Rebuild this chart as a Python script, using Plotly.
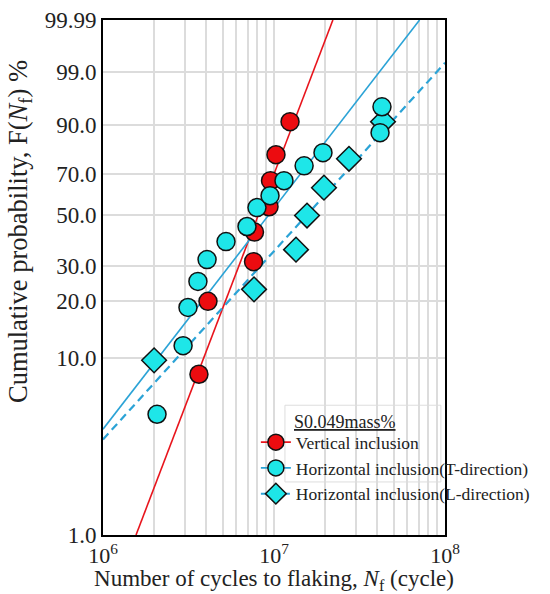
import numpy as np
import plotly.graph_objects as go

# ---- data (N in cycles, F in %) ----
red_N = [3.64e6, 4.11e6, 7.59e6, 7.69e6, 9.35e6, 9.54e6, 1.027e7, 1.241e7]
red_F = [8.1, 19.9, 31.3, 42.6, 54.0, 66.6, 78.7, 90.9]

T_N = [2.07e6, 2.94e6, 3.14e6, 3.59e6, 4.06e6, 5.24e6, 6.95e6, 7.95e6,
       9.48e6, 1.144e7, 1.50e7, 1.934e7, 4.17e7, 4.28e7]
T_F = [4.85, 11.6, 18.5, 25.1, 32.0, 38.7, 45.0, 53.6,
       59.3, 66.6, 73.7, 79.6, 87.4, 94.6]

L_N = [1.99e6, 7.64e6, 1.345e7, 1.56e7, 1.96e7, 2.745e7, 4.34e7]
L_F = [9.66, 22.9, 35.6, 49.9, 63.2, 76.9, 90.9]

# fitted Weibull lines (end points)
red_fit_N = [1.56e6, 2.21e7]
red_fit_F = [1.0, 99.99]
T_fit_N = [1.0e6, 7.1e7]
T_fit_F = [4.0, 99.99]
L_fit_N = [1.0e6, 1.0e8]
L_fit_F = [3.5, 99.46]

y_ticks = [1.0, 10.0, 20.0, 30.0, 50.0, 70.0, 90.0, 99.0, 99.99]
y_labels = ["1.0", "10.0", "20.0", "30.0", "50.0", "70.0", "90.0", "99.0", "99.99"]
x_decades = [1e6, 1e7, 1e8]
x_labels = ["10<sup>6</sup>", "10<sup>7</sup>", "10<sup>8</sup>"]

legend_names = ["Vertical inclusion",
                "Horizontal inclusion(T-direction)",
                "Horizontal inclusion(L-direction)"]


def weib(F):
    """Weibull probability scale: ln(-ln(1-F))."""
    return np.log(-np.log(1.0 - np.asarray(F, dtype=float) / 100.0))


FONT = "Liberation Serif, Times New Roman, serif"
RED = "#ec0c10"
RED_LINE = "#e8141c"
CYAN = "#1ee6e8"
BLUE_LINE = "#2ba3d6"
EDGE = "#111111"
TXT = "#222222"

# grid positions on the log axis: 1..9 x each decade
x_grid = [m * d for d in x_decades[:-1] for m in range(1, 10)] + [x_decades[-1]]
x_grid_text = [x_labels[x_decades.index(v)] if v in x_decades else "" for v in x_grid]

fig = go.Figure()

# fitted lines
fig.add_trace(go.Scatter(x=red_fit_N, y=weib(red_fit_F), mode="lines",
                         line=dict(color=RED_LINE, width=1.6), showlegend=False))
fig.add_trace(go.Scatter(x=T_fit_N, y=weib(T_fit_F), mode="lines",
                         line=dict(color=BLUE_LINE, width=1.6), showlegend=False))
fig.add_trace(go.Scatter(x=L_fit_N, y=weib(L_fit_F), mode="lines",
                         line=dict(color=BLUE_LINE, width=2.2, dash="8px,5px"),
                         showlegend=False))

# data markers
fig.add_trace(go.Scatter(x=red_N, y=weib(red_F), mode="markers",
                         marker=dict(symbol="circle", size=18, color=RED,
                                     line=dict(color=EDGE, width=1.5)),
                         showlegend=False))
fig.add_trace(go.Scatter(x=L_N, y=weib(L_F), mode="markers",
                         marker=dict(symbol="diamond", size=19, color=CYAN,
                                     line=dict(color=EDGE, width=1.5)),
                         showlegend=False))
fig.add_trace(go.Scatter(x=T_N, y=weib(T_F), mode="markers",
                         marker=dict(symbol="circle", size=18, color=CYAN,
                                     line=dict(color=EDGE, width=1.5)),
                         showlegend=False))

# legend entries (line + marker symbols)
fig.add_trace(go.Scatter(x=[None], y=[None], mode="lines+markers", name=legend_names[0],
                         line=dict(color=RED_LINE, width=1.6),
                         marker=dict(symbol="circle", size=17, color=RED,
                                     line=dict(color=EDGE, width=1.5))))
fig.add_trace(go.Scatter(x=[None], y=[None], mode="lines+markers", name=legend_names[1],
                         line=dict(color=BLUE_LINE, width=1.6),
                         marker=dict(symbol="circle", size=17, color=CYAN,
                                     line=dict(color=EDGE, width=1.5))))
fig.add_trace(go.Scatter(x=[None], y=[None], mode="lines+markers", name=legend_names[2],
                         line=dict(color=BLUE_LINE, width=2, dash="5px,3px"),
                         marker=dict(symbol="diamond", size=17, color=CYAN,
                                     line=dict(color=EDGE, width=1.5))))

fig.update_layout(
    width=550, height=594,
    margin=dict(l=103, r=105, t=20, b=59, autoexpand=False),
    paper_bgcolor="white", plot_bgcolor="white",
    font=dict(family=FONT, color=TXT),
    showlegend=True,
    legend=dict(x=0.447, y=0.215, xanchor="left", yanchor="top",
                bgcolor="rgba(0,0,0,0)", borderwidth=0,
                font=dict(family=FONT, size=17.5, color=TXT),
                itemwidth=30, tracegroupgap=0),
    xaxis=dict(type="log", range=[6, 8], automargin=False,
               tickvals=x_grid, ticktext=x_grid_text, ticks="",
               tickfont=dict(family=FONT, size=22, color=TXT),
               showgrid=True, gridcolor="#dcdcdc", gridwidth=1.5,
               showline=True, linecolor="black", linewidth=2, mirror=True,
               zeroline=False,
               title=dict(text="Number of cycles to flaking, <i>N</i><sub>f</sub> (cycle)",
                          font=dict(family=FONT, size=23, color=TXT),
                          standoff=0)),
    yaxis=dict(range=[float(weib(1.0)), float(weib(99.99))], automargin=False,
               tickvals=list(weib(y_ticks)), ticktext=y_labels, ticks="",
               tickfont=dict(family=FONT, size=23, color=TXT),
               showgrid=True, gridcolor="#dcdcdc", gridwidth=1.5,
               showline=True, linecolor="black", linewidth=2, mirror=True,
               zeroline=False),
    shapes=[dict(type="rect", xref="paper", yref="paper",
                 x0=0.532, x1=0.988, y0=0.103, y1=0.252,
                 fillcolor="white", line=dict(color="#dddddd", width=1),
                 layer="between")],
    annotations=[
        dict(text="<u>S0.049mass%</u>", xref="paper", yref="paper",
             x=0.552, y=0.219, xanchor="left", yanchor="middle",
             showarrow=False, font=dict(family=FONT, size=18, color=TXT)),
        dict(text="Cumulative probability, F(<i>N</i><sub>f</sub>) %",
             xref="paper", yref="paper", x=-0.243, y=0.59,
             xanchor="center", yanchor="middle", textangle=-90,
             showarrow=False, font=dict(family=FONT, size=26.5, color=TXT)),
    ],
)

fig.write_html("out.html", config={"displayModeBar": False},
               post_script="document.body.style.margin='0';"
                           "document.body.style.overflow='hidden';")
